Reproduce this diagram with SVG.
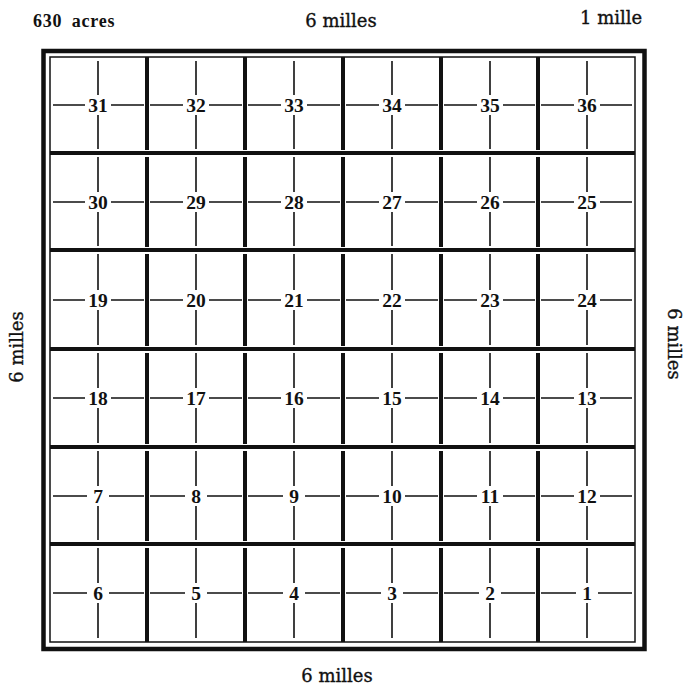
<svg xmlns="http://www.w3.org/2000/svg" width="686" height="686" viewBox="0 0 686 686">
<style>
.thick{stroke:#111;stroke-width:4;fill:none}
.frame{stroke:#111;stroke-width:4.5;fill:none}
.inner{stroke:#111;stroke-width:1.5;fill:none}
.thin{stroke:#111;stroke-width:1.6;fill:none}
.num{font-family:"Liberation Serif","DejaVu Serif",serif;font-weight:bold;font-size:19.5px;text-anchor:middle;fill:#111}
.lbl{font-family:"DejaVu Serif","Liberation Serif",serif;font-size:18px;fill:#111;stroke:#111;stroke-width:0.35}
.lblb{font-family:"Liberation Serif","DejaVu Serif",serif;font-size:18px;font-weight:bold;letter-spacing:0.8px;word-spacing:4px;fill:#111}
</style>
<rect width="686" height="686" fill="#fff"/>
<g id="labels">
<text class="lblb" x="33" y="27">630 acres</text>
<text class="lbl" x="341" y="27" text-anchor="middle">6 milles</text>
<text class="lbl" x="580" y="24">1 mille</text>
<text class="lbl" x="337" y="682" text-anchor="middle">6 milles</text>
<text class="lbl" text-anchor="middle" transform="translate(23,347) rotate(-90)">6 milles</text>
<text class="lbl" text-anchor="middle" transform="translate(668,344) rotate(90)">6 milles</text>
</g>
<g id="connectors">
<rect class="frame" x="43.5" y="51" width="601" height="598"/>
<rect class="inner" x="50" y="57" width="585" height="585"/>
<path class="thick" d="M50 153H635M50 250H635M50 349H635M50 447H635M50 544H635"/>
<path class="thick" d="M147 57V150M245 57V150M343 57V150M441 57V150M538 57V150
M147 157V247M245 157V247M343 157V247M441 157V247M538 157V247
M147 254V346M245 254V346M343 254V346M441 254V346M538 254V346
M147 353V444M245 353V444M343 353V444M441 353V444M538 353V444
M147 451V541M245 451V541M343 451V541M441 451V541M538 451V541
M147 548V642M245 548V642M343 548V642M441 548V642M538 548V642"/>
</g>
<!-- Row 1 -->
<g id="s31"><path class="thin" d="M53 105H85M111 105H144M98 61V95M98 115V149"/><text class="num" x="98" y="112">31</text></g>
<g id="s32"><path class="thin" d="M150 105H183M209 105H242M196 61V95M196 115V149"/><text class="num" x="196" y="112">32</text></g>
<g id="s33"><path class="thin" d="M248 105H281M307 105H340M294 61V95M294 115V149"/><text class="num" x="294" y="112">33</text></g>
<g id="s34"><path class="thin" d="M346 105H379M405 105H438M392 61V95M392 115V149"/><text class="num" x="392" y="112">34</text></g>
<g id="s35"><path class="thin" d="M444 105H477M503 105H535M490 61V95M490 115V149"/><text class="num" x="490" y="112">35</text></g>
<g id="s36"><path class="thin" d="M541 105H574M600 105H632M587 61V95M587 115V149"/><text class="num" x="587" y="112">36</text></g>
<!-- Row 2 -->
<g id="s30"><path class="thin" d="M53 202H85M111 202H144M98 157V192M98 212V246"/><text class="num" x="98" y="209">30</text></g>
<g id="s29"><path class="thin" d="M150 202H183M209 202H242M196 157V192M196 212V246"/><text class="num" x="196" y="209">29</text></g>
<g id="s28"><path class="thin" d="M248 202H281M307 202H340M294 157V192M294 212V246"/><text class="num" x="294" y="209">28</text></g>
<g id="s27"><path class="thin" d="M346 202H379M405 202H438M392 157V192M392 212V246"/><text class="num" x="392" y="209">27</text></g>
<g id="s26"><path class="thin" d="M444 202H477M503 202H535M490 157V192M490 212V246"/><text class="num" x="490" y="209">26</text></g>
<g id="s25"><path class="thin" d="M541 202H574M600 202H632M587 157V192M587 212V246"/><text class="num" x="587" y="209">25</text></g>
<!-- Row 3 -->
<g id="s19"><path class="thin" d="M53 300H85M111 300H144M98 254V290M98 310V345"/><text class="num" x="98" y="307">19</text></g>
<g id="s20"><path class="thin" d="M150 300H183M209 300H242M196 254V290M196 310V345"/><text class="num" x="196" y="307">20</text></g>
<g id="s21"><path class="thin" d="M248 300H281M307 300H340M294 254V290M294 310V345"/><text class="num" x="294" y="307">21</text></g>
<g id="s22"><path class="thin" d="M346 300H379M405 300H438M392 254V290M392 310V345"/><text class="num" x="392" y="307">22</text></g>
<g id="s23"><path class="thin" d="M444 300H477M503 300H535M490 254V290M490 310V345"/><text class="num" x="490" y="307">23</text></g>
<g id="s24"><path class="thin" d="M541 300H574M600 300H632M587 254V290M587 310V345"/><text class="num" x="587" y="307">24</text></g>
<!-- Row 4 -->
<g id="s18"><path class="thin" d="M53 398H85M111 398H144M98 353V388M98 408V443"/><text class="num" x="98" y="405">18</text></g>
<g id="s17"><path class="thin" d="M150 398H183M209 398H242M196 353V388M196 408V443"/><text class="num" x="196" y="405">17</text></g>
<g id="s16"><path class="thin" d="M248 398H281M307 398H340M294 353V388M294 408V443"/><text class="num" x="294" y="405">16</text></g>
<g id="s15"><path class="thin" d="M346 398H379M405 398H438M392 353V388M392 408V443"/><text class="num" x="392" y="405">15</text></g>
<g id="s14"><path class="thin" d="M444 398H477M503 398H535M490 353V388M490 408V443"/><text class="num" x="490" y="405">14</text></g>
<g id="s13"><path class="thin" d="M541 398H574M600 398H632M587 353V388M587 408V443"/><text class="num" x="587" y="405">13</text></g>
<!-- Row 5 -->
<g id="s7"><path class="thin" d="M53 496H87M109 496H144M98 451V486M98 506V540"/><text class="num" x="98" y="503">7</text></g>
<g id="s8"><path class="thin" d="M150 496H185M207 496H242M196 451V486M196 506V540"/><text class="num" x="196" y="503">8</text></g>
<g id="s9"><path class="thin" d="M248 496H283M305 496H340M294 451V486M294 506V540"/><text class="num" x="294" y="503">9</text></g>
<g id="s10"><path class="thin" d="M346 496H379M405 496H438M392 451V486M392 506V540"/><text class="num" x="392" y="503">10</text></g>
<g id="s11"><path class="thin" d="M444 496H477M503 496H535M490 451V486M490 506V540"/><text class="num" x="490" y="503">11</text></g>
<g id="s12"><path class="thin" d="M541 496H574M600 496H632M587 451V486M587 506V540"/><text class="num" x="587" y="503">12</text></g>
<!-- Row 6 -->
<g id="s6"><path class="thin" d="M53 593H87M109 593H144M98 548V583M98 603V638"/><text class="num" x="98" y="600">6</text></g>
<g id="s5"><path class="thin" d="M150 593H185M207 593H242M196 548V583M196 603V638"/><text class="num" x="196" y="600">5</text></g>
<g id="s4"><path class="thin" d="M248 593H283M305 593H340M294 548V583M294 603V638"/><text class="num" x="294" y="600">4</text></g>
<g id="s3"><path class="thin" d="M346 593H381M403 593H438M392 548V583M392 603V638"/><text class="num" x="392" y="600">3</text></g>
<g id="s2"><path class="thin" d="M444 593H479M501 593H535M490 548V583M490 603V638"/><text class="num" x="490" y="600">2</text></g>
<g id="s1"><path class="thin" d="M541 593H576M598 593H632M587 548V583M587 603V638"/><text class="num" x="587" y="600">1</text></g>
</svg>
